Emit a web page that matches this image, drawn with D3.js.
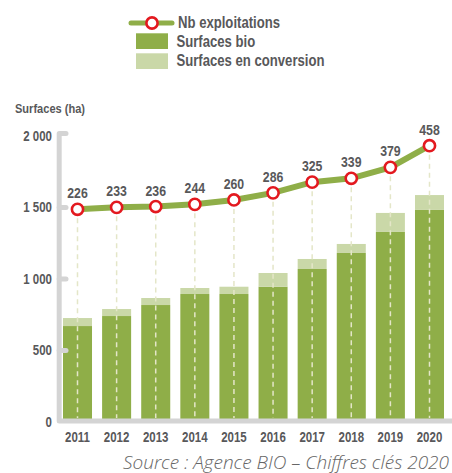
<!DOCTYPE html>
<html>
<head>
<meta charset="utf-8">
<script src="https://cdn.jsdelivr.net/npm/d3@7"></script>
<style>
  body { margin: 0; background: #fff; }
  text { font-family: "Liberation Sans", Arial, sans-serif; font-weight: bold; fill: #58585a; }
</style>
</head>
<body>
<div id="chart"></div>
<script>
// data
const years = ["2011", "2012", "2013", "2014", "2015", "2016", "2017", "2018", "2019", "2020"];
const surfacesBio = [671, 741, 818, 895, 895, 946, 1070, 1182, 1329, 1483];
const surfacesConversion = [56, 49, 49, 42, 51, 96, 70, 63, 133, 104];
const nbExploitations = [226, 233, 236, 244, 260, 286, 325, 339, 379, 458];
const yTicks = [0, 500, 1000, 1500, 2000];

const colors = {
  bio: "#8fae48",
  conversion: "#cad8a8",
  line: "#8fae48",
  dot: "#e3191f",
  axis: "#d4d4d4",
  dash: "#e4e6c8",
};

const dimensions = { width: 452, height: 473 };
const narrowK = 0.82; // no narrow font installed, squeeze Liberation Sans instead

// squeeze text horizontally, keeping its anchor point in place
function narrow(sel) {
  sel.each(function () {
    const t = d3.select(this);
    const x = +t.attr("x") || 0;
    t.attr("x", x / narrowK).attr("transform", `scale(${narrowK},1)`);
  });
}

const svg = d3
  .select("#chart")
  .append("svg")
  .attr("width", dimensions.width)
  .attr("height", dimensions.height);

const xScale = d3
  .scaleBand()
  .domain(years)
  .range([58.3, 448.7])
  .paddingInner(0.258)
  .paddingOuter(0.12);

const yScale = d3.scaleLinear().domain([0, 2000]).range([422, 136]);

// second (hidden) scale for the farms count
const y2Scale = d3.scaleLinear().domain([0, 500]).range([271.2, 134.2]);

const data = years.map((year, i) => ({
  year,
  bio: surfacesBio[i],
  conversion: surfacesConversion[i],
  nb: nbExploitations[i],
}));

const stack = d3.stack().keys(["bio", "conversion"])(data);
const cx = (d) => xScale(d.year) + xScale.bandwidth() / 2;

// bars
svg
  .append("g")
  .selectAll("g")
  .data(stack)
  .join("g")
  .attr("fill", (d) => colors[d.key])
  .selectAll("rect")
  .data((d) => d)
  .join("rect")
  .attr("x", (d) => xScale(d.data.year))
  .attr("width", xScale.bandwidth())
  .attr("y", (d) => yScale(d[1]))
  .attr("height", (d) => yScale(d[0]) - yScale(d[1]));

// dashed guides
svg
  .append("g")
  .selectAll("line")
  .data(data)
  .join("line")
  .attr("x1", cx)
  .attr("x2", cx)
  .attr("y1", (d) => y2Scale(d.nb))
  .attr("y2", yScale(0) - 4)
  .attr("stroke", colors.dash)
  .attr("stroke-width", 1.5)
  .attr("stroke-dasharray", "5,4");

// axes
const fmt = d3.formatLocale({ thousands: " ", grouping: [3], decimal: ",", currency: ["", ""] }).format(",d");

svg
  .append("path")
  .attr("d", `M66,${yScale(2000) - 2.5}L59.2,${yScale(2000) - 2.5}L59.2,${yScale(0) - 1}L452,${yScale(0) - 1}`)
  .attr("fill", "none")
  .attr("stroke", colors.axis)
  .attr("stroke-width", 5)
  .attr("stroke-linejoin", "round")
  .attr("stroke-linecap", "round");

svg
  .append("g")
  .selectAll("line")
  .data(yTicks.filter((t) => t > 0 && t < 2000))
  .join("line")
  .attr("x1", 59.2)
  .attr("x2", 66)
  .attr("y1", (d) => yScale(d))
  .attr("y2", (d) => yScale(d))
  .attr("stroke", colors.axis)
  .attr("stroke-width", 5)
  .attr("stroke-linecap", "round");

const yAxis = svg
  .append("g")
  .attr("transform", "translate(59,0)")
  .call(d3.axisLeft(yScale).tickValues(yTicks).tickFormat(fmt).tickSize(0).tickPadding(7));
yAxis.select(".domain").remove();
yAxis.selectAll("text").attr("font-size", 14).attr("font-family", null).call(narrow);

const xAxis = svg
  .append("g")
  .attr("transform", `translate(0, ${yScale(0) - 1})`)
  .call(d3.axisBottom(xScale).tickSize(0).tickPadding(11));
xAxis.select(".domain").remove();
xAxis.selectAll("text").attr("font-size", 14).attr("font-family", null).call(narrow);

// farms line
const lineGenerator = d3
  .line()
  .x(cx)
  .y((d) => y2Scale(d.nb));

svg
  .append("path")
  .datum(data)
  .attr("d", lineGenerator)
  .attr("fill", "none")
  .attr("stroke", colors.line)
  .attr("stroke-width", 6);

svg
  .append("g")
  .selectAll("circle")
  .data(data)
  .join("circle")
  .attr("cx", cx)
  .attr("cy", (d) => y2Scale(d.nb))
  .attr("r", 5.6)
  .attr("fill", "#fff")
  .attr("stroke", colors.dot)
  .attr("stroke-width", 2.6);

svg
  .append("g")
  .selectAll("text")
  .data(data)
  .join("text")
  .attr("x", cx)
  .attr("y", (d) => y2Scale(d.nb) - 11)
  .attr("text-anchor", "middle")
  .attr("font-size", 15)
  .text((d) => d.nb)
  .call(narrow);

// y title
svg.append("text").attr("x", 15).attr("y", 113.3).attr("font-size", 13.5).text("Surfaces (ha)").call(narrow);

// legend
const legend = svg.append("g");
legend
  .append("line")
  .attr("x1", 131)
  .attr("x2", 172)
  .attr("y1", 23)
  .attr("y2", 23)
  .attr("stroke", colors.line)
  .attr("stroke-width", 5)
  .attr("stroke-linecap", "round");
legend
  .append("circle")
  .attr("cx", 152)
  .attr("cy", 23)
  .attr("r", 5.6)
  .attr("fill", "#fff")
  .attr("stroke", colors.dot)
  .attr("stroke-width", 2.6);
legend.append("text").attr("x", 178).attr("y", 28.4).attr("font-size", 16).text("Nb exploitations").call(narrow);

legend.append("rect").attr("x", 136).attr("y", 33.3).attr("width", 32).attr("height", 15.7).attr("fill", colors.bio);
legend.append("text").attr("x", 176.5).attr("y", 46.7).attr("font-size", 16).text("Surfaces bio").call(narrow);

legend.append("rect").attr("x", 136).attr("y", 53.3).attr("width", 32).attr("height", 15.7).attr("fill", colors.conversion);
legend.append("text").attr("x", 176.5).attr("y", 65.7).attr("font-size", 16).text("Surfaces en conversion").call(narrow);

// source
svg
  .append("text")
  .attr("x", 449)
  .attr("y", 469)
  .attr("text-anchor", "end")
  .attr("font-size", 19)
  .style("font-family", '"Open Sans", sans-serif')
  .style("font-style", "italic")
  .style("font-weight", 300)
  .style("fill", "#666")
  .text("Source : Agence BIO – Chiffres clés 2020");
</script>
</body>
</html>
